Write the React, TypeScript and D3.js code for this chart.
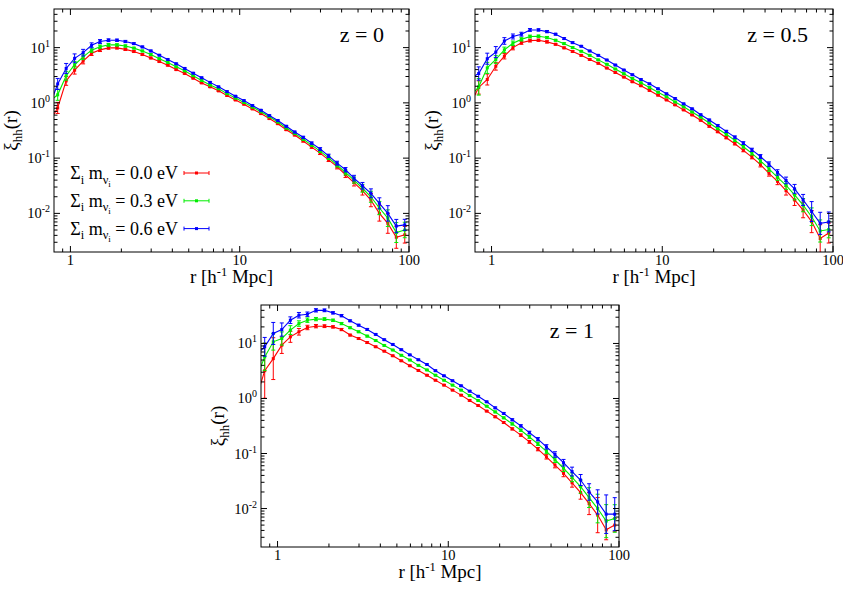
import React from "react";
import * as d3 from "d3";

// bin centres r [h^-1 Mpc]
const R = [
  0.750, 0.841, 0.944, 1.059, 1.189, 1.334, 1.496, 1.679, 1.884, 2.113,
  2.371, 2.661, 2.985, 3.350, 3.758, 4.217, 4.732, 5.309, 5.957, 6.683,
  7.499, 8.414, 9.441, 10.59, 11.89, 13.34, 14.96, 16.79, 18.84, 21.13,
  23.71, 26.61, 29.85, 33.50, 37.58, 42.17, 47.32, 53.09, 59.57, 66.83,
  74.99, 84.14, 94.41,
];

// z = 0
const XI_Z0_M00 = [
  0.45, 0.81, 2.5, 3.9, 5.7, 7.9, 9.1, 9.9, 9.9, 9.3,
  8.5, 7.5, 6.5, 5.6, 4.8, 4.0, 3.4, 2.8, 2.3, 1.95,
  1.65, 1.36, 1.13, 0.946, 0.778, 0.64, 0.52, 0.42, 0.327, 0.262,
  0.204, 0.158, 0.123, 0.093, 0.070, 0.050, 0.036, 0.0258, 0.0174, 0.010,
  0.0066, 0.0037, 0.0041,
];
const XI_Z0_M03 = [
  1.05, 1.4, 3.1, 4.9, 6.8, 9.0, 10.4, 11.2, 11.2, 10.7,
  9.8, 8.7, 7.5, 6.3, 5.4, 4.5, 3.8, 3.1, 2.55, 2.1,
  1.8, 1.47, 1.22, 1.02, 0.84, 0.69, 0.56, 0.45, 0.352, 0.28,
  0.22, 0.172, 0.134, 0.101, 0.075, 0.055, 0.040, 0.0285, 0.020, 0.0125,
  0.0082, 0.0045, 0.0050,
];
const XI_Z0_M06 = [
  0.85, 2.2, 4.2, 6.4, 8.1, 11, 12.9, 13.6, 13.6, 12.9,
  11.8, 10.3, 8.7, 7.3, 6.1, 5.1, 4.2, 3.45, 2.85, 2.35,
  1.95, 1.6, 1.32, 1.1, 0.895, 0.736, 0.59, 0.48, 0.377, 0.297,
  0.238, 0.187, 0.146, 0.110, 0.081, 0.0616, 0.0435, 0.0316, 0.0231, 0.0152,
  0.010, 0.0059, 0.0062,
];
// z = 0.5
const XI_Z05_M00 = [
  0.95, 1.9, 2.65, 4.6, 7.0, 10, 12.3, 13.4, 13.6, 12.7,
  11.5, 9.9, 8.5, 7.25, 6.1, 5.2, 4.27, 3.55, 2.93, 2.41,
  2.04, 1.68, 1.38, 1.13, 0.92, 0.746, 0.605, 0.484, 0.377, 0.30,
  0.234, 0.182, 0.138, 0.104, 0.076, 0.053, 0.038, 0.0258, 0.0175, 0.0115,
  0.0071, 0.0035, 0.0044,
];
const XI_Z05_M03 = [
  1.3, 1.95, 4.3, 6.1, 9.1, 12.0, 14.1, 15.9, 16.1, 15.2,
  13.6, 11.8, 10, 8.6, 7.25, 6.0, 5.0, 4.1, 3.37, 2.77,
  2.31, 1.9, 1.56, 1.29, 1.04, 0.85, 0.686, 0.55, 0.433, 0.341,
  0.27, 0.21, 0.161, 0.122, 0.089, 0.064, 0.045, 0.032, 0.0216, 0.0141,
  0.0087, 0.0048, 0.0051,
];
const XI_Z05_M06 = [
  2.8, 3.4, 6.3, 8.3, 13.2, 15.9, 17.5, 20.9, 20.9, 19.5,
  17.5, 14.6, 12.3, 10.6, 8.7, 7.25, 5.97, 4.84, 3.93, 3.23,
  2.65, 2.21, 1.8, 1.46, 1.2, 0.96, 0.78, 0.61, 0.49, 0.39,
  0.305, 0.24, 0.187, 0.141, 0.107, 0.078, 0.055, 0.0395, 0.0278, 0.0175,
  0.0108, 0.0066, 0.0070,
];
// z = 1
const XI_Z1_M00 = [
  1.0, 3.2, 5.3, 9.3, 13.2, 16.3, 19.5, 20.6, 20.6, 20.0,
  17.9, 14.2, 12.3, 10.4, 8.7, 7.25, 5.97, 4.84, 3.93, 3.23,
  2.65, 2.15, 1.75, 1.42, 1.15, 0.92, 0.746, 0.59, 0.465, 0.366,
  0.28, 0.216, 0.163, 0.12, 0.087, 0.0616, 0.0435, 0.0294, 0.0195, 0.0123,
  0.0076, 0.0041, 0.0050,
];
const XI_Z1_M03 = [
  2.3, 5.7, 10.7, 12.3, 17.5, 23, 26.5, 27.7, 27.7, 26.4,
  23, 19.3, 16.3, 13.6, 11.3, 9.2, 7.6, 6.1, 5.0, 4.0,
  3.3, 2.65, 2.15, 1.75, 1.42, 1.13, 0.92, 0.725, 0.57, 0.445,
  0.345, 0.265, 0.2, 0.15, 0.109, 0.077, 0.054, 0.037, 0.025, 0.0158,
  0.010, 0.0059, 0.0066,
];
const XI_Z1_M06 = [
  6.2, 8.7, 15.2, 17.9, 26.5, 32.6, 34, 40, 40, 36,
  32, 25.8, 21.5, 18, 14.6, 11.7, 9.6, 7.7, 6.2, 5.05,
  4.15, 3.2, 2.58, 2.1, 1.7, 1.36, 1.1, 0.87, 0.676, 0.535,
  0.41, 0.318, 0.24, 0.182, 0.132, 0.096, 0.068, 0.047, 0.033, 0.020,
  0.0132, 0.0079, 0.0079,
];

// error bar half-widths in dex
const ERR_Z0_M00 = [
  0.15, 0.10, 0.08, 0.07, 0.05, 0.04, 0.03, 0.025, 0.02, 0.02,
  0.015, 0.015, 0.015, 0.012, 0.012, 0.012, 0.012, 0.012, 0.012, 0.012,
  0.012, 0.012, 0.012, 0.012, 0.012, 0.012, 0.012, 0.012, 0.015, 0.015,
  0.018, 0.02, 0.025, 0.03, 0.04, 0.05, 0.06, 0.08, 0.12, 0.14,
  0.18, 0.2, 0.15,
];
const ERR_Z0_M03 = [
  0.12, 0.10, 0.08, 0.06, 0.05, 0.04, 0.03, 0.025, 0.02, 0.02,
  0.015, 0.015, 0.015, 0.012, 0.012, 0.012, 0.012, 0.012, 0.012, 0.012,
  0.012, 0.012, 0.012, 0.012, 0.012, 0.012, 0.012, 0.012, 0.015, 0.015,
  0.018, 0.02, 0.025, 0.03, 0.035, 0.045, 0.055, 0.07, 0.1, 0.12,
  0.15, 0.18, 0.14,
];
const ERR_Z0_M06 = [
  0.12, 0.10, 0.09, 0.08, 0.06, 0.045, 0.035, 0.025, 0.02, 0.02,
  0.015, 0.015, 0.015, 0.012, 0.012, 0.012, 0.012, 0.012, 0.012, 0.012,
  0.012, 0.012, 0.012, 0.012, 0.012, 0.012, 0.012, 0.012, 0.015, 0.015,
  0.018, 0.02, 0.025, 0.03, 0.035, 0.04, 0.05, 0.06, 0.08, 0.1,
  0.14, 0.12, 0.1,
];
const ERR_Z05_M00 = [
  0.15, 0.12, 0.1, 0.07, 0.05, 0.04, 0.03, 0.025, 0.02, 0.02,
  0.015, 0.015, 0.015, 0.012, 0.012, 0.012, 0.012, 0.012, 0.012, 0.012,
  0.012, 0.012, 0.012, 0.012, 0.012, 0.012, 0.012, 0.012, 0.015, 0.015,
  0.018, 0.02, 0.025, 0.03, 0.04, 0.05, 0.06, 0.08, 0.1, 0.14,
  0.2, 0.25, 0.18,
];
const ERR_Z05_M03 = [
  0.15, 0.15, 0.1, 0.07, 0.05, 0.04, 0.03, 0.025, 0.02, 0.02,
  0.015, 0.015, 0.015, 0.012, 0.012, 0.012, 0.012, 0.012, 0.012, 0.012,
  0.012, 0.012, 0.012, 0.012, 0.012, 0.012, 0.012, 0.012, 0.015, 0.015,
  0.018, 0.02, 0.025, 0.03, 0.035, 0.045, 0.055, 0.07, 0.09, 0.12,
  0.16, 0.2, 0.15,
];
const ERR_Z05_M06 = [
  0.12, 0.12, 0.1, 0.1, 0.06, 0.045, 0.035, 0.025, 0.02, 0.02,
  0.015, 0.015, 0.015, 0.012, 0.012, 0.012, 0.012, 0.012, 0.012, 0.012,
  0.012, 0.012, 0.012, 0.012, 0.012, 0.012, 0.012, 0.012, 0.015, 0.015,
  0.018, 0.02, 0.025, 0.03, 0.035, 0.04, 0.05, 0.06, 0.08, 0.1,
  0.18, 0.2, 0.18,
];
const ERR_Z1_M00 = [
  0.5, 0.5, 0.38, 0.15, 0.1, 0.06, 0.04, 0.03, 0.025, 0.02,
  0.02, 0.015, 0.015, 0.015, 0.012, 0.012, 0.012, 0.012, 0.012, 0.012,
  0.012, 0.012, 0.012, 0.012, 0.012, 0.012, 0.012, 0.012, 0.015, 0.015,
  0.018, 0.02, 0.025, 0.03, 0.04, 0.05, 0.06, 0.08, 0.12, 0.2,
  0.32, 0.18, 0.12,
];
const ERR_Z1_M03 = [
  0.25, 0.25, 0.15, 0.12, 0.08, 0.05, 0.04, 0.03, 0.025, 0.02,
  0.02, 0.015, 0.015, 0.015, 0.012, 0.012, 0.012, 0.012, 0.012, 0.012,
  0.012, 0.012, 0.012, 0.012, 0.012, 0.012, 0.012, 0.012, 0.015, 0.015,
  0.018, 0.02, 0.025, 0.03, 0.04, 0.05, 0.06, 0.08, 0.12, 0.18,
  0.26, 0.3, 0.25,
];
const ERR_Z1_M06 = [
  0.17, 0.17, 0.2, 0.12, 0.06, 0.05, 0.04, 0.03, 0.025, 0.02,
  0.02, 0.015, 0.015, 0.015, 0.012, 0.012, 0.012, 0.012, 0.012, 0.012,
  0.012, 0.012, 0.012, 0.012, 0.012, 0.012, 0.012, 0.012, 0.015, 0.015,
  0.018, 0.02, 0.025, 0.03, 0.04, 0.05, 0.06, 0.08, 0.1, 0.15,
  0.22, 0.35, 0.3,
];

const SERIES_COLORS = ["#ff0000", "#00ee00", "#0000ff"];
const MASS_LABELS = ["0.0", "0.3", "0.6"];
const X_TICKS = [1, 10, 100];
const Y_TICK_EXP = [-2, -1, 0, 1];
const X_DOMAIN = [0.8, 100];
const Y_DOMAIN = [0.002, 50];
const PANEL_LABELS = ["z = 0", "z = 0.5", "z = 1"];

const FONT = "Liberation Serif";

const PANELS = [
  { label: PANEL_LABELS[0], x0: 54, x1: 409, y0: 9, y1: 252, legend: true,
    series: [XI_Z0_M00, XI_Z0_M03, XI_Z0_M06], errs: [ERR_Z0_M00, ERR_Z0_M03, ERR_Z0_M06] },
  { label: PANEL_LABELS[1], x0: 475, x1: 833, y0: 9, y1: 252, legend: false,
    series: [XI_Z05_M00, XI_Z05_M03, XI_Z05_M06], errs: [ERR_Z05_M00, ERR_Z05_M03, ERR_Z05_M06] },
  { label: PANEL_LABELS[2], x0: 261, x1: 619, y0: 305, y1: 547, legend: false,
    series: [XI_Z1_M00, XI_Z1_M03, XI_Z1_M06], errs: [ERR_Z1_M00, ERR_Z1_M03, ERR_Z1_M06] },
];

function minorValues(domain: number[], decades: number[], majors: number[]) {
  const out: number[] = [];
  decades.forEach((d) => {
    for (let m = 2; m <= 9; m++) {
      const v = m * d;
      if (v > domain[0] * 1.0001 && v < domain[1] * 0.9999 && !majors.includes(v)) out.push(v);
    }
  });
  return out;
}

function Panel({ p, idx }: { p: any; idx: number }) {
  const x = d3.scaleLog().domain(X_DOMAIN).range([p.x0, p.x1]);
  const y = d3.scaleLog().domain(Y_DOMAIN).range([p.y1, p.y0]);
  const line = d3
    .line<number>()
    .x((_, i) => x(R[i]))
    .y((d) => y(d));
  const clipId = `clip-${idx}`;
  const xMinor = minorValues(X_DOMAIN, [0.1, 1, 10], X_TICKS);
  const yMajor = Y_TICK_EXP.map((e) => Math.pow(10, e));
  const yMinor = minorValues(Y_DOMAIN, [0.001, 0.01, 0.1, 1, 10], yMajor);
  const MAJ = 6;
  const MIN = 3.5;
  const cx = (p.x0 + p.x1) / 2;
  const cy = (p.y0 + p.y1) / 2;

  return (
    <g>
      <clipPath id={clipId}>
        <rect x={p.x0} y={p.y0} width={p.x1 - p.x0} height={p.y1 - p.y0} />
      </clipPath>
      <g clipPath={`url(#${clipId})`}>
        {p.series.map((s: number[], si: number) => (
          <g key={si}>
            <path d={line(s) || ""} fill="none" stroke={SERIES_COLORS[si]} strokeWidth={1.1} />
            {s.map((v, i) => {
              const e = p.errs[si][i];
              const px = x(R[i]);
              const lo = y(v / Math.pow(10, e));
              const hi = y(v * Math.pow(10, e));
              return (
                <g key={i} stroke={SERIES_COLORS[si]} strokeWidth={1}>
                  <line x1={px} x2={px} y1={lo} y2={hi} />
                  <line x1={px - 2} x2={px + 2} y1={lo} y2={lo} />
                  <line x1={px - 2} x2={px + 2} y1={hi} y2={hi} />
                  <rect x={px - 1.5} y={y(v) - 1.5} width={3} height={3} fill={SERIES_COLORS[si]} stroke="none" />
                </g>
              );
            })}
          </g>
        ))}
      </g>
      {/* frame */}
      <rect x={p.x0} y={p.y0} width={p.x1 - p.x0} height={p.y1 - p.y0} fill="none" stroke="#000" strokeWidth={1} />
      {/* ticks */}
      <g stroke="#000" strokeWidth={1}>
        {X_TICKS.map((t) => (
          <g key={`xm${t}`}>
            <line x1={x(t)} x2={x(t)} y1={p.y1} y2={p.y1 - MAJ} />
            <line x1={x(t)} x2={x(t)} y1={p.y0} y2={p.y0 + MAJ} />
          </g>
        ))}
        {xMinor.map((t) => (
          <g key={`xn${t}`}>
            <line x1={x(t)} x2={x(t)} y1={p.y1} y2={p.y1 - MIN} />
            <line x1={x(t)} x2={x(t)} y1={p.y0} y2={p.y0 + MIN} />
          </g>
        ))}
        {yMajor.map((t) => (
          <g key={`ym${t}`}>
            <line x1={p.x0} x2={p.x0 + MAJ} y1={y(t)} y2={y(t)} />
            <line x1={p.x1} x2={p.x1 - MAJ} y1={y(t)} y2={y(t)} />
          </g>
        ))}
        {yMinor.map((t) => (
          <g key={`yn${t}`}>
            <line x1={p.x0} x2={p.x0 + MIN} y1={y(t)} y2={y(t)} />
            <line x1={p.x1} x2={p.x1 - MIN} y1={y(t)} y2={y(t)} />
          </g>
        ))}
      </g>
      {/* tick labels */}
      <g fontFamily={FONT} fill="#000">
        {X_TICKS.map((t) => (
          <text key={`xl${t}`} x={x(t)} y={p.y1 + 12.5} fontSize={14.5} textAnchor="middle">
            {t}
          </text>
        ))}
        {Y_TICK_EXP.map((e) => (
          <text key={`yl${e}`} x={p.x0 - 4} y={y(Math.pow(10, e)) + 5} fontSize={14.5} textAnchor="end">
            10
            <tspan fontSize={10} dy={-6}>
              {e < 0 ? `-${-e}` : `${e}`}
            </tspan>
          </text>
        ))}
      </g>
      {/* axis titles */}
      <text x={cx} y={p.y1 + 31} fontFamily={FONT} fontSize={19} textAnchor="middle" fill="#000">
        r [h<tspan fontSize={12.5} dy={-7}>-1</tspan>
        <tspan dy={7}> Mpc]</tspan>
      </text>
      <text
        transform={`translate(${p.x0 - 37},${cy}) rotate(-90)`}
        fontFamily={FONT}
        fontSize={19}
        textAnchor="middle"
        fill="#000"
      >
        ξ<tspan fontSize={13} dy={4.5}>hh</tspan>
        <tspan dy={-4.5}>(r)</tspan>
      </text>
      {/* panel label */}
      <text x={p.x1 - 25} y={p.y0 + 33} fontFamily={FONT} fontSize={22} textAnchor="end" fill="#000">
        {p.label}
      </text>
      {p.legend &&
        MASS_LABELS.map((m, li) => {
          const ly = p.y0 + 164 + li * 27.8;
          const lx0 = p.x0 + 130;
          const lx1 = p.x0 + 155;
          const col = SERIES_COLORS[li];
          return (
            <g key={`lg${li}`}>
              <text x={p.x0 + 124} y={ly + 6} fontFamily={FONT} fontSize={18} textAnchor="end" fill="#000">
                Σ<tspan fontSize={12.5} dy={4.5}>i</tspan>
                <tspan dy={-4.5}> m</tspan>
                <tspan fontSize={12.5} dy={4.5}>ν</tspan>
                <tspan fontSize={9} dy={3}>i</tspan>
                <tspan dy={-7.5}>{` = ${m} eV`}</tspan>
              </text>
              <g stroke={col} strokeWidth={1}>
                <line x1={lx0} x2={lx1} y1={ly} y2={ly} />
                <line x1={lx0} x2={lx0} y1={ly - 2} y2={ly + 2} />
                <line x1={lx1} x2={lx1} y1={ly - 2} y2={ly + 2} />
              </g>
              <rect x={(lx0 + lx1) / 2 - 1.5} y={ly - 1.5} width={3} height={3} fill={col} />
            </g>
          );
        })}
    </g>
  );
}

export default function App() {
  return (
    <svg
      width={843}
      height={590}
      viewBox="0 0 843 590"
      style={{ position: "absolute", left: 0, top: 0, background: "#fff" }}
    >
      <rect x={0} y={0} width={843} height={590} fill="#fff" />
      {PANELS.map((p, i) => (
        <Panel key={i} p={p} idx={i} />
      ))}
    </svg>
  );
}
